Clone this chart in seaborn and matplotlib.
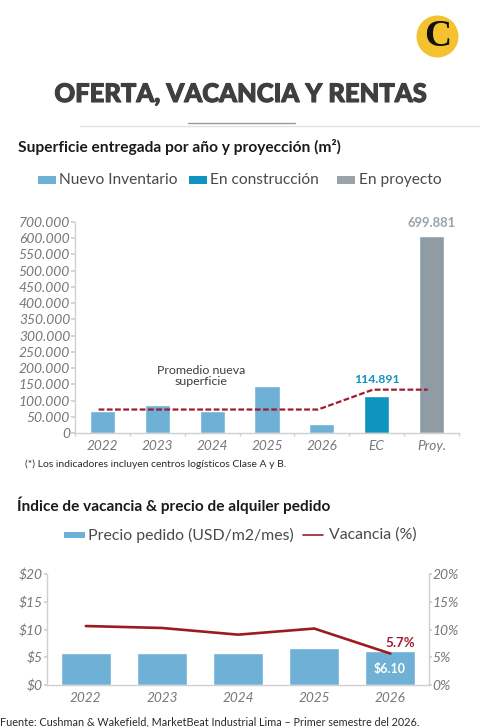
import matplotlib
matplotlib.use("Agg")
import matplotlib.pyplot as plt
from matplotlib.patches import Ellipse, Rectangle
from matplotlib.lines import Line2D
from matplotlib.ticker import FixedLocator, NullFormatter
import matplotlib.patheffects as pe
import seaborn as sns
import pandas as pd
import numpy as np

# Data
years_sup = ['2022', '2023', '2024', '2025', '2026', 'EC', 'Proy.']
superficie = [68000, 86000, 68000, 145000, 29500, 114891, 605000]
tipo = ['Nuevo Inventario'] * 5 + ['En construcción', 'En proyecto']
promedio = [73000, 73000, 73000, 73000, 73000, 134000, 134000]
sup_ticks = [0, 50000, 100000, 150000, 200000, 250000, 300000, 350000, 400000,
             450000, 500000, 550000, 600000, 650000]
sup_labels = ['0', '50.000', '100.000', '150.000', '200.000', '250.000', '300.000', '350.000',
              '400.000', '450.000', '500.000', '550.000', '600.000', '700.000']

years_vac = ['2022', '2023', '2024', '2025', '2026']
precio = [5.76, 5.86, 5.86, 6.65, 6.10]
vacancia = [10.65, 10.3, 9.1, 10.2, 5.7]
precio_ticks = [0, 5, 10, 15, 20]
vac_ticks = [0, 5, 10, 15, 20]

# Colors
BLUE = '#6fb0d6'
TEAL = '#0f94bf'
GREY = '#8f9ca5'
RED = '#a01c2f'
TICK = '#77777b'
AXIS = '#d0d0d0'
W, H = 480, 727

sns.set_theme(style='white')
plt.rcParams['font.family'] = ['Lato', 'DejaVu Sans']
fig = plt.figure(figsize=(W / 100, H / 100), dpi=100, facecolor='white')


def box(left, top, right, bottom):
    return [left / W, 1 - bottom / H, (right - left) / W, (bottom - top) / H]


def label(x, y, s, **kw):
    kw.setdefault('va', 'center')
    return fig.text(x / W, 1 - y / H, s, **kw)


def swatch(x0, x1, y, h, color):
    fig.add_artist(Rectangle((x0 / W, 1 - (y + h / 2) / H), (x1 - x0) / W, h / H,
                             transform=fig.transFigure, color=color, lw=0))


def hline(x0, x1, y, color, lw):
    fig.add_artist(Line2D([x0 / W, x1 / W], [1 - y / H] * 2, transform=fig.transFigure, color=color, lw=lw))


# Header
fig.add_artist(Ellipse((437.5 / W, 1 - 36.5 / H), 42 / W, 42 / H,
                       transform=fig.transFigure, color='#f3c22e', lw=0))
label(437.5, 36, 'C', fontsize=27, color='#111111', ha='center', family='Liberation Serif', weight='bold')
title = label(240, 94, 'OFERTA, VACANCIA Y RENTAS', fontsize=18.4, weight='black', color='#3f3f41', ha='center')
title.set_path_effects([pe.withStroke(linewidth=0.8, foreground='#3f3f41')])
hline(80, 480, 126, '#e2e2e2', 1)
hline(188, 295, 122.5, '#9a9a9a', 1)

# Chart 1
label(18, 147, 'Superficie entregada por año y proyección (m²)', fontsize=11.15, weight='bold', color='#1a1a1a')
for x0, x1, c, tx, s in [(38, 56, BLUE, 59, 'Nuevo Inventario'),
                         (189, 207, TEAL, 210, 'En construcción'),
                         (337, 355, '#9aa3a9', 359, 'En proyecto')]:
    swatch(x0, x1, 180, 7, c)
    label(tx, 180, s, fontsize=11.2, color='#4a4a4c')

ax1 = fig.add_axes(box(75, 221.7, 459, 433.3))
sup_df = pd.DataFrame({'Año': years_sup, 'Superficie': superficie, 'Tipo': tipo})
sns.barplot(data=sup_df, x='Año', y='Superficie', hue='Tipo', dodge=False, width=0.456, legend=False,
            palette={'Nuevo Inventario': BLUE, 'En construcción': TEAL, 'En proyecto': GREY},
            saturation=1, ax=ax1)
sns.lineplot(x=np.arange(len(promedio)) - 0.07, y=promedio, color=RED, lw=1.6, ax=ax1,
             linestyle=(0, (2.6, 1.1)))
ax1.set_xlim(-0.5, 6.5)
ax1.set_ylim(0, 650000)
ax1.set_yticks(sup_ticks, sup_labels, fontsize=10, style='italic', color=TICK)
ax1.xaxis.set_minor_locator(FixedLocator(np.arange(-0.5, 7, 1)))
ax1.xaxis.set_minor_formatter(NullFormatter())
ax1.set_xticks(range(7), years_sup, fontsize=9.8, style='italic', color=TICK)
ax1.tick_params(axis='x', which='major', length=0, pad=5)
ax1.tick_params(axis='x', which='minor', length=2, color=AXIS, direction='out', bottom=True)
ax1.tick_params(axis='y', length=3, color=AXIS, pad=0.5, left=True)
ax1.set_xlabel('')
ax1.set_ylabel('')
sns.despine(ax=ax1)
ax1.patch.set_alpha(0)
for s in ['left', 'bottom']:
    ax1.spines[s].set_color(AXIS)
    ax1.spines[s].set_linewidth(1)

label(201, 376, 'Promedio nueva\nsuperficie', fontsize=8.9, color='#3d3d3f', ha='center', linespacing=1.1)
label(431.5, 223, '699.881', fontsize=9.4, weight='bold', color='#9aa3a9', ha='center')
label(376.7, 379, '114.891', fontsize=8.8, weight='bold', color=TEAL, ha='center')
label(25, 464, '(*) Los indicadores incluyen centros logísticos Clase A y B.', fontsize=7.5, color='#2a2a2c')

# Chart 2
label(17, 505, 'Índice de vacancia & precio de alquiler pedido', fontsize=11.1, weight='bold', color='#1a1a1a')
swatch(64, 85, 535, 6, BLUE)
label(88, 535, 'Precio pedido (USD/m2/mes)', fontsize=11.4, color='#4a4a4c')
hline(303, 323, 535, RED, 1.2)
label(329, 535, 'Vacancia (%)', fontsize=11.4, color='#4a4a4c')

ax2 = fig.add_axes(box(47, 574, 428.5, 685.3))
sns.barplot(x=years_vac, y=precio, color=BLUE, saturation=1, width=0.656, ax=ax2)
ax2.set_xlim(-0.51, 4.5)
ax2.set_ylim(0, 20)
ax2.set_yticks(precio_ticks, [f'${v}' for v in precio_ticks], fontsize=10, style='italic', color=TICK)
ax2.set_xticks(range(5), years_vac, fontsize=9.8, style='italic', color=TICK)
ax2.tick_params(axis='x', length=0, pad=5)
ax2.tick_params(axis='y', length=2, color=AXIS, pad=1, left=True)

ax3 = ax2.twinx()
sns.lineplot(x=range(5), y=vacancia, color='#9b1c1f', lw=1.9, ax=ax3)
ax3.set_ylim(0, 20)
ax3.set_yticks(vac_ticks, [f'{v}%' for v in vac_ticks], fontsize=10, style='italic', color=TICK)
ax3.tick_params(axis='y', length=2, color=AXIS, pad=1, right=True)
ax3.set_xlabel('')
ax3.set_ylabel('')
for a in (ax2, ax3):
    a.grid(False)
    for s in a.spines.values():
        s.set_visible(False)
ax2.spines['left'].set_visible(True)
ax2.spines['bottom'].set_visible(True)
ax3.spines['right'].set_visible(True)
for a, s in [(ax2, 'left'), (ax2, 'bottom'), (ax3, 'right')]:
    a.spines[s].set_color(AXIS)
    a.spines[s].set_linewidth(1)

label(400, 643, '5.7%', fontsize=9.6, weight='bold', color=RED, ha='center')
label(390, 669, '$6.10', fontsize=9, weight='bold', color='white', ha='center')
label(0, 722, 'Fuente: Cushman & Wakefield, MarketBeat Industrial Lima – Primer semestre del 2026.',
      fontsize=7.8, color='#2a2a2c')

fig.savefig('out.png', dpi=100)
